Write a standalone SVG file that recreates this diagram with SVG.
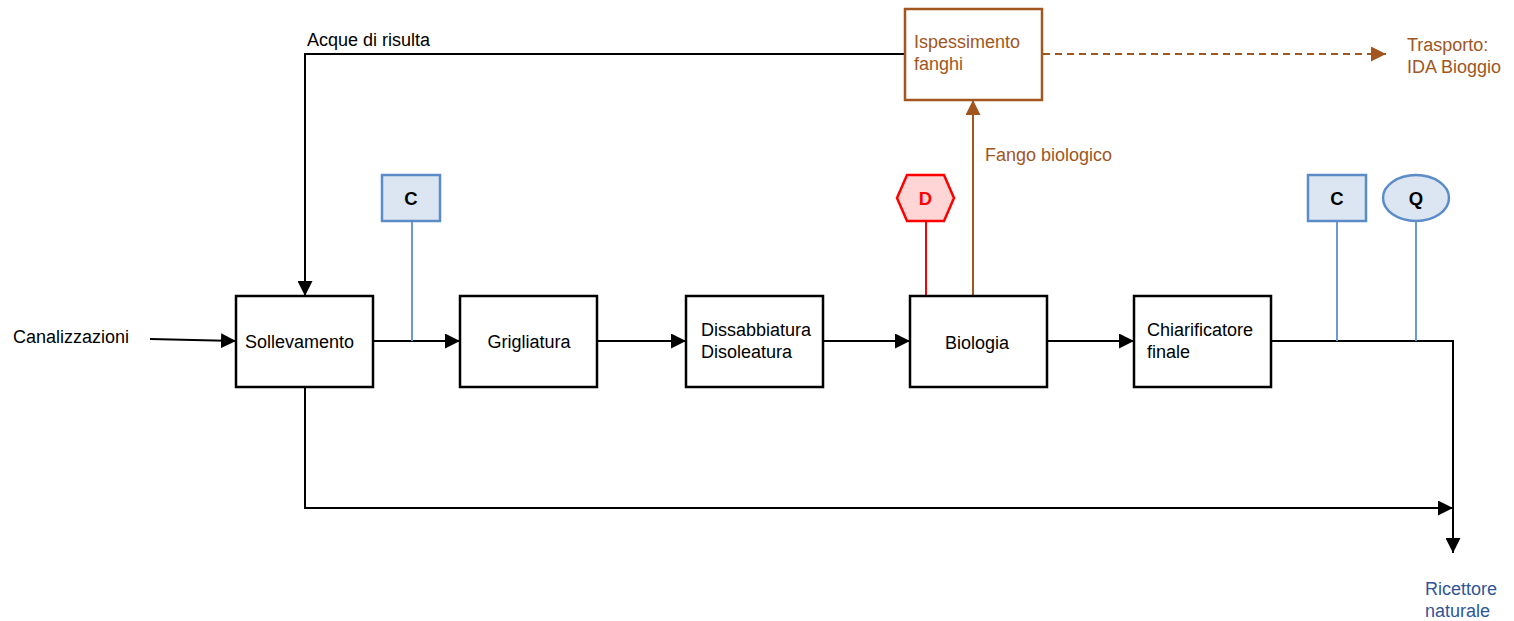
<svg xmlns="http://www.w3.org/2000/svg" width="1514" height="621" viewBox="0 0 1514 621">
<style>
text{font-family:"Liberation Sans",Arial,sans-serif;font-size:18px;fill:#000}
.box{fill:#fff;stroke:#000;stroke-width:2.5}
.bbox{fill:#fff;stroke:#A0561E;stroke-width:2.5}
.br{fill:#A0561E}
.blue{fill:#DCE6F2;stroke:#5B8CC8;stroke-width:2.5}
.bl{stroke:#6A9AD2;stroke-width:2;fill:none}
.k{stroke:#000;stroke-width:2;fill:none}
.lbl{font-weight:bold;font-size:18.5px}
</style>
<defs>
<marker id="ak" viewBox="0 0 10 10" refX="10" refY="5" markerWidth="15" markerHeight="15" markerUnits="userSpaceOnUse" orient="auto"><path d="M0,0L10,5L0,10z" fill="#000"/></marker>
<marker id="ab" viewBox="0 0 10 10" refX="10" refY="5" markerWidth="15" markerHeight="15" markerUnits="userSpaceOnUse" orient="auto"><path d="M0,0L10,5L0,10z" fill="#A0561E"/></marker>
</defs>
<g id="connectors">
<path class="k" d="M150,339L236,341" marker-end="url(#ak)"/>
<path class="k" d="M373,341L460,341" marker-end="url(#ak)"/>
<path class="k" d="M597,341L686,341" marker-end="url(#ak)"/>
<path class="k" d="M823,341L910,341" marker-end="url(#ak)"/>
<path class="k" d="M1047,341L1134,341" marker-end="url(#ak)"/>
<path class="k" d="M1271,341L1453,341L1453,553" marker-end="url(#ak)"/>
<path class="k" d="M305,387L305,508L1453,508" marker-end="url(#ak)"/>
<path class="k" d="M905,54L305,54L305,296" marker-end="url(#ak)"/>
<path d="M973,296L973,100" stroke="#A0561E" stroke-width="2" fill="none" marker-end="url(#ab)"/>
<path d="M1043,54L1386,54" stroke="#A0561E" stroke-width="2" stroke-dasharray="7,5" fill="none" marker-end="url(#ab)"/>
<path class="bl" d="M412,222L412,341"/>
<path class="bl" d="M1337,222L1337,341"/>
<path class="bl" d="M1416,222L1416,341"/>
<path d="M926,222L926,296" stroke="#FF0000" stroke-width="2" fill="none"/>
</g>
<g id="sollevamento"><rect class="box" x="236" y="296" width="137" height="91"/><text x="245" y="348">Sollevamento</text></g>
<g id="grigliatura"><rect class="box" x="460" y="296" width="137" height="91"/><text x="529" y="348" text-anchor="middle">Grigliatura</text></g>
<g id="dissabbiatura"><rect class="box" x="686" y="296" width="137" height="91"/><text x="701" y="336">Dissabbiatura</text><text x="701" y="358">Disoleatura</text></g>
<g id="biologia"><rect class="box" x="910" y="296" width="137" height="91"/><text x="977" y="349" text-anchor="middle">Biologia</text></g>
<g id="chiarificatore"><rect class="box" x="1134" y="296" width="137" height="91"/><text x="1147" y="336">Chiarificatore</text><text x="1147" y="358">finale</text></g>
<g id="ispessimento"><rect class="bbox" x="905" y="9" width="137" height="91"/><text class="br" x="914" y="48">Ispessimento</text><text class="br" x="914" y="70">fanghi</text></g>
<g id="c1"><rect class="blue" x="382" y="175" width="58" height="46"/><text class="lbl" x="411" y="205" text-anchor="middle">C</text></g>
<g id="d"><polygon points="907,175 944,175 954,198 944,221 907,221 897,198" fill="#FFD5D5" stroke="#FF0000" stroke-width="2.5"/><text class="lbl" x="925.5" y="205" text-anchor="middle" style="fill:#FF0000">D</text></g>
<g id="c2"><rect class="blue" x="1308" y="175" width="58" height="46"/><text class="lbl" x="1337" y="205" text-anchor="middle">C</text></g>
<g id="q"><ellipse class="blue" cx="1416" cy="198" rx="33" ry="23"/><text class="lbl" x="1416" y="205" text-anchor="middle">Q</text></g>
<g id="labels">
<text x="13" y="343">Canalizzazioni</text>
<text x="307" y="46">Acque di risulta</text>
<text class="br" x="985" y="161">Fango biologico</text>
<text class="br" x="1407" y="51">Trasporto:</text>
<text class="br" x="1407" y="73">IDA Bioggio</text>
<text x="1425" y="595" style="fill:#2F5597">Ricettore</text>
<text x="1425" y="617" style="fill:#2F5597">naturale</text>
</g>
</svg>
